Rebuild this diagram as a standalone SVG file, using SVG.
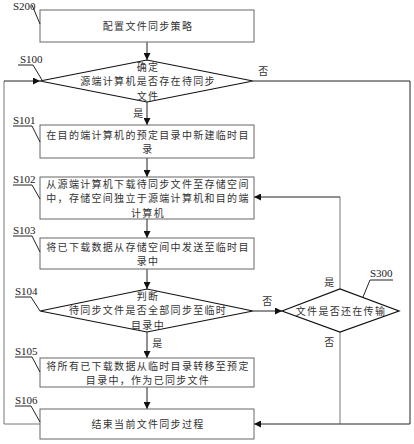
<svg xmlns="http://www.w3.org/2000/svg" width="414" height="444" viewBox="0 0 414 444">
<style>
.box{fill:#fff;stroke:#666;stroke-width:1}
.dia{fill:#fff;stroke:#111;stroke-width:1.2}
.t{font-family:"Noto Sans CJK SC","Noto Sans CJK JP",sans-serif;font-size:10px;fill:#333;text-anchor:middle;letter-spacing:1.3px}
.lb{font-family:"Liberation Serif",serif;font-size:11px;fill:#222}
.ld{fill:none;stroke:#222;stroke-width:1}
.c{fill:none;stroke:#222;stroke-width:1}
.cg{fill:none;stroke:#777;stroke-width:1}
</style>
<defs>
<marker id="ah" viewBox="0 0 10 10" refX="10" refY="5" markerWidth="7" markerHeight="7" orient="auto" markerUnits="userSpaceOnUse">
<path d="M0,0 L10,5 L0,10 z" fill="#111"/>
</marker>
</defs>
<rect width="414" height="444" fill="#fff"/>
<g id="connectors">
<line class="c" x1="147" y1="42" x2="147" y2="60" marker-end="url(#ah)"/>
<line class="c" x1="147" y1="102" x2="147" y2="125" marker-end="url(#ah)"/>
<line class="c" x1="147" y1="158" x2="147" y2="177" marker-end="url(#ah)"/>
<line class="c" x1="147" y1="219" x2="147" y2="238" marker-end="url(#ah)"/>
<line class="c" x1="147" y1="269" x2="147" y2="289" marker-end="url(#ah)"/>
<line class="c" x1="147" y1="332" x2="147" y2="358" marker-end="url(#ah)"/>
<line class="c" x1="147" y1="387" x2="147" y2="409" marker-end="url(#ah)"/>
<polyline class="cg" points="40,424 4,424 4,81"/>
<line class="c" x1="4" y1="81" x2="40" y2="81" marker-end="url(#ah)"/>
<polyline class="c" points="253,81 410,81 410,424 340,424"/>
<polyline class="cg" points="340,332 340,424"/>
<line class="c" x1="340" y1="424" x2="254" y2="424" marker-end="url(#ah)"/>
<line class="c" x1="253" y1="311" x2="282" y2="311" marker-end="url(#ah)"/>
<polyline class="cg" points="340,289 340,197"/>
<line class="c" x1="340" y1="197" x2="254" y2="197" marker-end="url(#ah)"/>
<text class="t" x="264" y="75">否</text>
<text class="t" x="139" y="117">是</text>
<text class="t" x="268" y="305">否</text>
<text class="t" x="158" y="347">是</text>
<text class="t" x="330" y="286">是</text>
<text class="t" x="330" y="346">否</text>
</g>
<g id="S200">
<rect class="box" x="40" y="10" width="214" height="32"/>
<text class="t" x="148" y="30">配置文件同步策略</text>
<text class="lb" x="13" y="10">S200</text>
<polyline class="ld" points="32,5 40,24"/>
</g>
<g id="S100">
<polygon class="dia" points="40,81 147,60 253,81 147,102"/>
<text class="t" x="148" y="70.5">确定<tspan x="148" dy="14.5">源端计算机是否存在待同步</tspan><tspan x="148" dy="14.5">文件</tspan></text>
<text class="lb" x="20" y="63">S100</text>
<polyline class="ld" points="18,65 33,65 42,80"/>
</g>
<g id="S101">
<rect class="box" x="40" y="125" width="214" height="33"/>
<text class="t" x="148" y="138.5">在目的端计算机的预定目录中新建临时目<tspan x="148" dy="14.5">录</tspan></text>
<text class="lb" x="13" y="124">S101</text>
<polyline class="ld" points="13,126 32,126 40,142"/>
</g>
<g id="S102">
<rect class="box" x="40" y="177" width="214" height="42"/>
<text class="t" x="148" y="187.5">从源端计算机下载待同步文件至存储空间<tspan x="148" dy="14.5">中，存储空间独立于源端计算机和目的端</tspan><tspan x="148" dy="14.5">计算机</tspan></text>
<text class="lb" x="13" y="183">S102</text>
<polyline class="ld" points="13,185 32,185 40,199"/>
</g>
<g id="S103">
<rect class="box" x="40" y="238" width="214" height="31"/>
<text class="t" x="148" y="250.5">将已下载数据从存储空间中发送至临时目<tspan x="148" dy="14.5">录中</tspan></text>
<text class="lb" x="13" y="234">S103</text>
<polyline class="ld" points="13,236 32,236 40,252"/>
</g>
<g id="S104">
<polygon class="dia" points="40,311 147,289 253,311 147,332"/>
<text class="t" x="148" y="299.5">判断<tspan x="148" dy="14.5">待同步文件是否全部同步至临时</tspan><tspan x="148" dy="14.5">目录中</tspan></text>
<text class="lb" x="15" y="295">S104</text>
<polyline class="ld" points="15,297 31,297 40,311"/>
</g>
<g id="S300">
<polygon class="dia" points="282,311 340,289 399,311 340,332"/>
<text class="t" x="341" y="315">文件是否还在传输</text>
<text class="lb" x="370" y="277">S300</text>
<polyline class="ld" points="393,280 370,280 363,297"/>
</g>
<g id="S105">
<rect class="box" x="40" y="358" width="214" height="29"/>
<text class="t" x="148" y="369.5">将所有已下载数据从临时目录转移至预定<tspan x="148" dy="14.5">目录中，作为已同步文件</tspan></text>
<text class="lb" x="15" y="355">S105</text>
<polyline class="ld" points="15,357 32,357 40,372"/>
</g>
<g id="S106">
<rect class="box" x="40" y="409" width="214" height="30"/>
<text class="t" x="148" y="428">结束当前文件同步过程</text>
<text class="lb" x="15" y="404">S106</text>
<polyline class="ld" points="15,406 31,406 40,422"/>
</g>
</svg>
